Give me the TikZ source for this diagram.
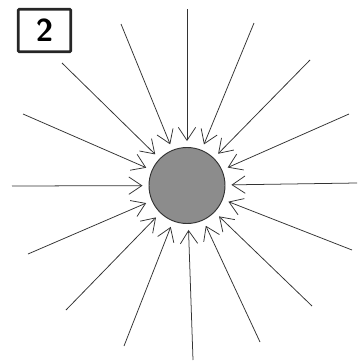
\documentclass[tikz,border=0pt]{standalone}
\usepackage{tikz}
\usetikzlibrary{arrows.meta}
\definecolor{ballGray}{HTML}{8C8C8C}
\definecolor{inkGray}{HTML}{333333}

\begin{document}
\begin{tikzpicture}[
  x=0.03cm, y=-0.03cm,
  ball/.style={circle, draw=inkGray, fill=ballGray, line width=0.8pt,
               minimum size=2.28cm, inner sep=0pt},
  tag/.style={draw=black!85, line width=2.4pt, rounded corners=1pt,
              minimum width=1.58cm, minimum height=1.28cm, inner sep=0pt,
              font=\sffamily\bfseries\fontsize{27}{27}\selectfont},
  ray/.style={-{Straight Barb[length=3.9mm, width=5.2mm]}, draw=inkGray,
              line width=0.65pt, shorten >=0.18cm},
]
\useasboundingbox (0,0) rectangle (357,362);

% ---- label ----
\node[tag] (label) at (44.5,30.5) {2};

% ---- centre ----
\node[ball] (sun) at (187,185.5) {};

% ---- outer ends of the rays ----
\foreach \px/\py [count=\i] in {187/9, 254/23, 310/60, 349/114, 357/183,
    352/250, 312/306, 260/342, 193/360, 124/346, 66/310, 28/254,
    12/186, 23/114, 62/63, 121/24}
  \coordinate (ray\i) at (\px,\py);

% ---- arrows ----
\foreach \i in {1,...,16}
  \draw[ray] (ray\i) -- (sun);
\end{tikzpicture}
\end{document}
